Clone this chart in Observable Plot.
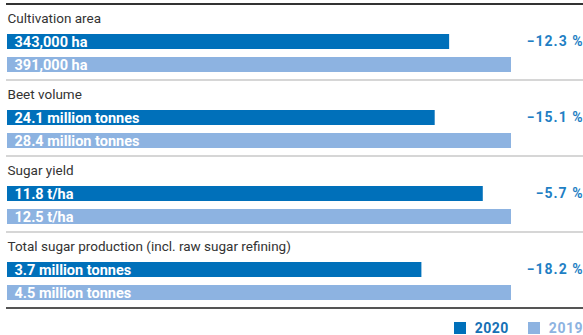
<!DOCTYPE html>
<html>
<head>
<meta charset="utf-8">
<script src="https://cdn.jsdelivr.net/npm/d3@7"></script>
<script src="https://cdn.jsdelivr.net/npm/@observablehq/plot@0.6"></script>
<style>
  html, body { margin: 0; padding: 0; background: #fff; }
  body { width: 583px; height: 335px; overflow: hidden; font-family: Roboto, "Noto Sans", sans-serif; }
  #chart svg { display: block; }
  .legend { display: flex; justify-content: flex-end; align-items: center; width: 583px; margin-top: 11px; font-weight: bold; font-size: 14px; line-height: 14px; letter-spacing: 0.5px; }
  .legend .item { display: flex; align-items: center; white-space: nowrap; }
  .legend .sw { width: 12px; height: 12px; margin-right: 9px; }
  .legend .item + .item { margin-left: 19px; }
</style>
</head>
<body>
<div id="chart"></div>
<div class="legend">
  <div class="item"><span class="sw" style="background:#0070ba"></span><span style="color:#1570b5">2020</span></div>
  <div class="item"><span class="sw" style="background:#8db3e1"></span><span style="color:#8db3e1">2019</span></div>
</div>
<script>
const metrics = ["Cultivation area", "Beet volume", "Sugar yield", "Total sugar production (incl. raw sugar refining)"];
const years = ["2020", "2019"];
const values2020 = [343000, 24.1, 11.8, 3.7];
const values2019 = [391000, 28.4, 12.5, 4.5];
const labels2020 = ["343,000 ha", "24.1 million tonnes", "11.8 t/ha", "3.7 million tonnes"];
const labels2019 = ["391,000 ha", "28.4 million tonnes", "12.5 t/ha", "4.5 million tonnes"];
const changes = ["\u221212.3 %", "\u221215.1 %", "\u22125.7 %", "\u221218.2 %"];

const dark = "#0070ba", light = "#8db3e1";

const rows = [];
metrics.forEach((m, i) => {
  rows.push({metric: m, year: years[0], share: values2020[i] / values2019[i], label: labels2020[i]});
  rows.push({metric: m, year: years[1], share: values2019[i] / values2019[i], label: labels2019[i]});
});

const chart = Plot.plot({
  width: 583,
  height: 310,
  marginTop: 3,
  marginBottom: 3,
  marginLeft: 6,
  marginRight: 0,
  style: {fontFamily: "Roboto, 'Noto Sans', sans-serif", fontSize: "13px", background: "#fff"},
  x: {domain: [0, 1], range: [7, 511], axis: null},
  y: {domain: ["title", ...years], paddingInner: 0.35, paddingOuter: 0.327, axis: null},
  fy: {domain: metrics, padding: 0, axis: null},
  marks: [
    Plot.ruleY([metrics[0]], {fy: d => d, y: () => "title", dy: -15, stroke: "#333", strokeWidth: 2}),
    Plot.ruleY(metrics.slice(0, 3), {fy: d => d, y: () => "2019", dy: 15, stroke: "#d6d6d6", strokeWidth: 2}),
    Plot.ruleY(metrics.slice(3), {fy: d => d, y: () => "2019", dy: 15, stroke: "#555", strokeWidth: 2}),
    Plot.barX(rows.filter(d => d.year === "2020"), {x: "share", y: "year", fy: "metric", fill: dark}),
    Plot.barX(rows.filter(d => d.year === "2019"), {x: "share", y: "year", fy: "metric", fill: light}),
    Plot.text(rows, {y: "year", fy: "metric", text: "label", frameAnchor: "left", textAnchor: "start", dx: 8, fill: "#fff", fontWeight: "bold", fontSize: 14.5}),
    Plot.text(metrics, {fy: d => d, y: () => "title", text: d => d, frameAnchor: "left", textAnchor: "start", dx: 1, fill: "#333", fontSize: 13.5}),
    Plot.text(metrics, {fy: d => d, y: () => "2020", text: (d, i) => changes[i], frameAnchor: "right", textAnchor: "end", dx: 0, fill: "#1f7fc4", fontWeight: "bold", fontSize: 14})
  ]
});
const textGroups = chart.querySelectorAll("g[aria-label='text']");
if (textGroups.length >= 3) textGroups[2].style.letterSpacing = "1px";
document.getElementById("chart").appendChild(chart);
</script>
</body>
</html>
